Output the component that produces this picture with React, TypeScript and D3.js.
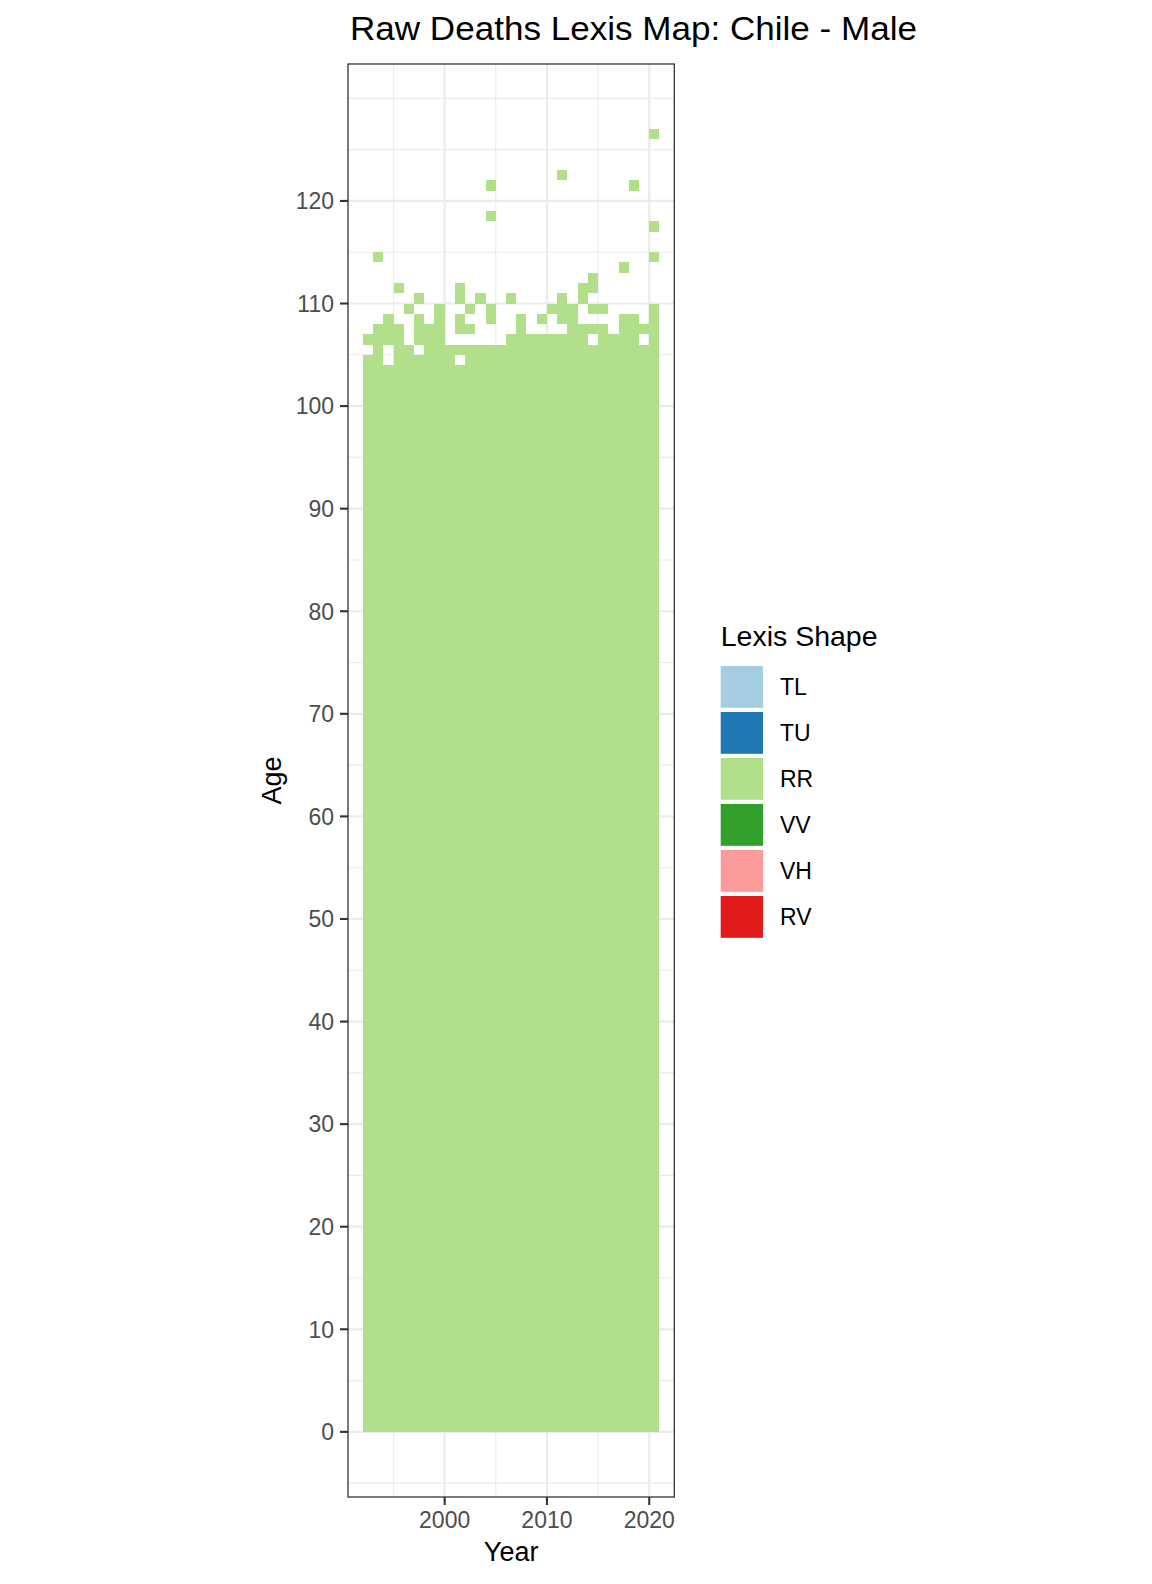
import React from 'react';
import * as d3 from 'd3';

// Lexis shape categories and their fills (RColorBrewer "Paired")
const shapes = ['TL', 'TU', 'RR', 'VV', 'VH', 'RV'];
const shapeColors = ['#A6CEE3', '#1F78B4', '#B2DF8A', '#33A02C', '#FB9A99', '#E31A1C'];

const years = [
  1992, 1993, 1994, 1995, 1996, 1997, 1998, 1999, 2000, 2001,
  2002, 2003, 2004, 2005, 2006, 2007, 2008, 2009, 2010, 2011,
  2012, 2013, 2014, 2015, 2016, 2017, 2018, 2019, 2020,
];

// every year has deaths reported for ages 0..fullTopAge
const fullTopAge = 103;

// ages above fullTopAge that have a record, by year (all RR)
const upperAges: Record<number, number[]> = {
  1992: [104, 106],
  1993: [104, 105, 106, 107, 114],
  1994: [106, 107, 108],
  1995: [104, 105, 106, 107, 111],
  1996: [104, 105, 109],
  1997: [104, 106, 107, 108, 110],
  1998: [104, 105, 106, 107],
  1999: [104, 105, 106, 107, 108, 109],
  2000: [104, 105],
  2001: [105, 107, 108, 110, 111],
  2002: [104, 105, 107, 109],
  2003: [104, 105, 110],
  2004: [104, 105, 108, 109, 118, 121],
  2005: [104, 105],
  2006: [104, 105, 106, 110],
  2007: [104, 105, 106, 107, 108],
  2008: [104, 105, 106],
  2009: [104, 105, 106, 108],
  2010: [104, 105, 106, 109],
  2011: [104, 105, 106, 108, 109, 110, 122],
  2012: [104, 105, 106, 107, 108, 109],
  2013: [104, 105, 106, 107, 110, 111],
  2014: [104, 105, 107, 109, 111, 112],
  2015: [104, 105, 106, 107, 109],
  2016: [104, 105, 106],
  2017: [104, 105, 106, 107, 108, 113],
  2018: [104, 105, 106, 107, 108, 121],
  2019: [104, 105, 107],
  2020: [104, 105, 106, 107, 108, 109, 114, 117, 126],
};

const xTicks = [2000, 2010, 2020];
const xMinor = [1995, 2005, 2015];
const yTicks = [0, 10, 20, 30, 40, 50, 60, 70, 80, 90, 100, 110, 120];
const yMinor = [-5, 5, 15, 25, 35, 45, 55, 65, 75, 85, 95, 105, 115, 125, 130];

const W = 1152;
const H = 1584;
const panel = { left: 348, right: 674.3, top: 64, bottom: 1497 };
const font = '"Liberation Sans", Arial, Helvetica, sans-serif';

type Cell = { year: number; age: number; shape: string };

export default function App() {
  const cells: Cell[] = [];
  years.forEach(year => {
    for (let age = 0; age <= fullTopAge; age++) cells.push({ year, age, shape: 'RR' });
    upperAges[year].forEach(age => cells.push({ year, age, shape: 'RR' }));
  });

  // ggplot-style 5% expansion around the tile extents
  const xExt = [years[0], years[years.length - 1] + 1];
  const yExt = [0, d3.max(cells, d => d.age)! + 1];
  const xPad = (xExt[1] - xExt[0]) * 0.05;
  const yPad = (yExt[1] - yExt[0]) * 0.05;

  const x = d3.scaleLinear()
    .domain([xExt[0] - xPad, xExt[1] + xPad])
    .range([panel.left, panel.right]);
  const y = d3.scaleLinear()
    .domain([yExt[0] - yPad, yExt[1] + yPad])
    .range([panel.bottom, panel.top]);
  const color = d3.scaleOrdinal<string, string>().domain(shapes).range(shapeColors);

  const legendX = 720.7;
  const legendY = 666;
  const keyStep = 46;

  return (
    <svg width={W} height={H} style={{ position: 'absolute', left: 0, top: 0, background: '#fff' }}
      fontFamily={font}>
      <rect width={W} height={H} fill="#fff" />

      {/* grid */}
      <g>
        {yMinor.map(v => (
          <line key={'ym' + v} x1={panel.left} x2={panel.right} y1={y(v)} y2={y(v)}
            stroke="#EBEBEB" strokeWidth={1.1} />
        ))}
        {xMinor.map(v => (
          <line key={'xm' + v} x1={x(v)} x2={x(v)} y1={panel.top} y2={panel.bottom}
            stroke="#EBEBEB" strokeWidth={1.1} />
        ))}
        {yTicks.map(v => (
          <line key={'yg' + v} x1={panel.left} x2={panel.right} y1={y(v)} y2={y(v)}
            stroke="#EBEBEB" strokeWidth={2.2} />
        ))}
        {xTicks.map(v => (
          <line key={'xg' + v} x1={x(v)} x2={x(v)} y1={panel.top} y2={panel.bottom}
            stroke="#EBEBEB" strokeWidth={2.2} />
        ))}
      </g>

      {/* tiles */}
      <g shapeRendering="crispEdges">
        {cells.map(c => (
          <rect key={c.year + '-' + c.age}
            x={x(c.year)} width={x(c.year + 1) - x(c.year)}
            y={y(c.age + 1)} height={y(c.age) - y(c.age + 1)}
            fill={color(c.shape)} />
        ))}
      </g>

      {/* panel border */}
      <rect x={panel.left} y={panel.top} width={panel.right - panel.left} height={panel.bottom - panel.top}
        fill="none" stroke="#333333" strokeWidth={1.3} />

      {/* y axis */}
      <g>
        {yTicks.map(v => (
          <g key={'yt' + v}>
            <line x1={panel.left - 8} x2={panel.left} y1={y(v)} y2={y(v)} stroke="#333333" strokeWidth={2.1} />
            <text x={panel.left - 14} y={y(v)} dy="0.36em" textAnchor="end" fontSize={23} fill="#4D4D4D">{v}</text>
          </g>
        ))}
      </g>

      {/* x axis */}
      <g>
        {xTicks.map(v => (
          <g key={'xt' + v}>
            <line x1={x(v)} x2={x(v)} y1={panel.bottom} y2={panel.bottom + 8} stroke="#333333" strokeWidth={2.1} />
            <text x={x(v)} y={1528.3} textAnchor="middle" fontSize={23} fill="#4D4D4D">{v}</text>
          </g>
        ))}
      </g>

      {/* axis titles */}
      <text x={(panel.left + panel.right) / 2} y={1560.7} textAnchor="middle" fontSize={27} fill="#000">Year</text>
      <text transform={`translate(281,${(panel.top + panel.bottom) / 2}) rotate(-90)`} textAnchor="middle"
        fontSize={27} fill="#000">Age</text>

      {/* title */}
      <text x={350} y={40} fontSize={33} fill="#000" textLength={567} lengthAdjust="spacingAndGlyphs">
        Raw Deaths Lexis Map: Chile - Male
      </text>

      {/* legend */}
      <g>
        <text x={legendX} y={645.7} fontSize={28.5} fill="#000">Lexis Shape</text>
        {shapes.map((s, i) => (
          <g key={s} transform={`translate(${legendX},${legendY + i * keyStep})`}>
            <rect width={42.3} height={41.8} fill={color(s)} />
            <text x={59.3} y={20.9} dy="0.36em" fontSize={23} fill="#000">{s}</text>
          </g>
        ))}
      </g>
    </svg>
  );
}
